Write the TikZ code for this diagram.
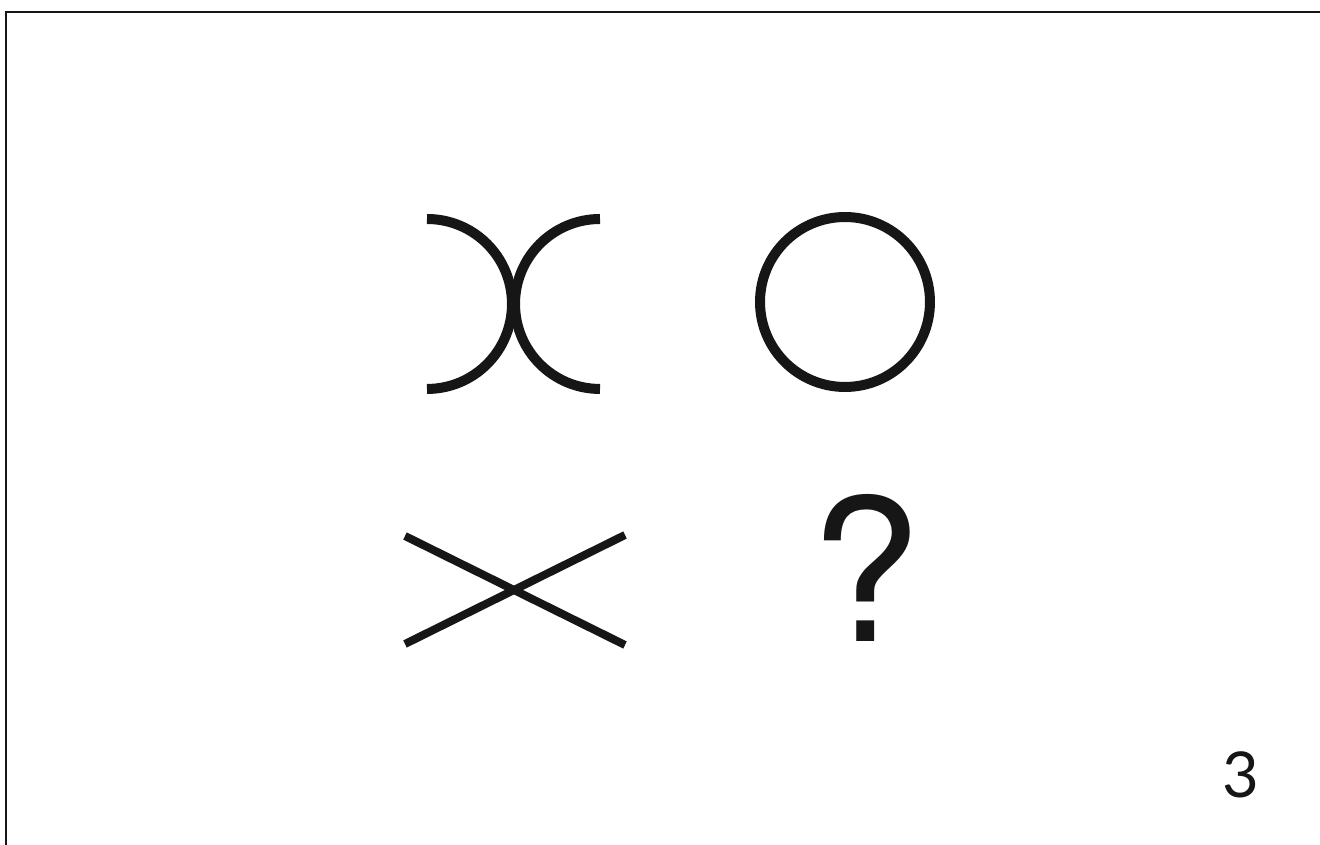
\documentclass[tikz,border=0pt]{standalone}
\usepackage{fontspec}
\setmainfont{TeX Gyre Heros}
\newfontfamily\numfont{Lato}
\usepackage{xcolor}
\usetikzlibrary{positioning}
\definecolor{inkblack}{RGB}{22, 22, 22}

\begin{document}
\begin{tikzpicture}[
      x=0.02cm, y=0.02cm,
      frame/.style={draw=inkblack, line width=0.045cm},
      curve/.style={draw=inkblack, line width=0.2cm},
      cross/.style={draw=inkblack, line width=0.16cm},
      glyph/.style={text=inkblack, inner sep=0pt, anchor=base}
    ]
    \useasboundingbox (0,0) rectangle (1320,845);

    %% Frame
    \draw[frame] (6,0) -- (6,833) -- (1320,833);

    %% Two arcs touching
    \draw[curve] (427,626) arc[start angle=90, end angle=-90, radius=1.7cm];
    \draw[curve] (600,626) arc[start angle=90, end angle=270, radius=1.7cm];

    %% Circle
    \draw[curve] (845,543) circle[radius=1.7cm];

    %% Crossing lines
    \coordinate (c1) at (405,309);
    \coordinate (c2) at (625,200);
    \coordinate (c3) at (405,201);
    \coordinate (c4) at (625,310);
    \draw[cross] (c1) -- (c2);
    \draw[cross] (c3) -- (c4);

    %% Question
    \node[glyph, font=\fontsize{113}{113}\selectfont] (quest) at (866,203) {?};

    %% Page number
    \node[glyph, font=\numfont\fontsize{36}{36}\selectfont] (pnum) at (1241,47) {3};
  \end{tikzpicture}
\end{document}
